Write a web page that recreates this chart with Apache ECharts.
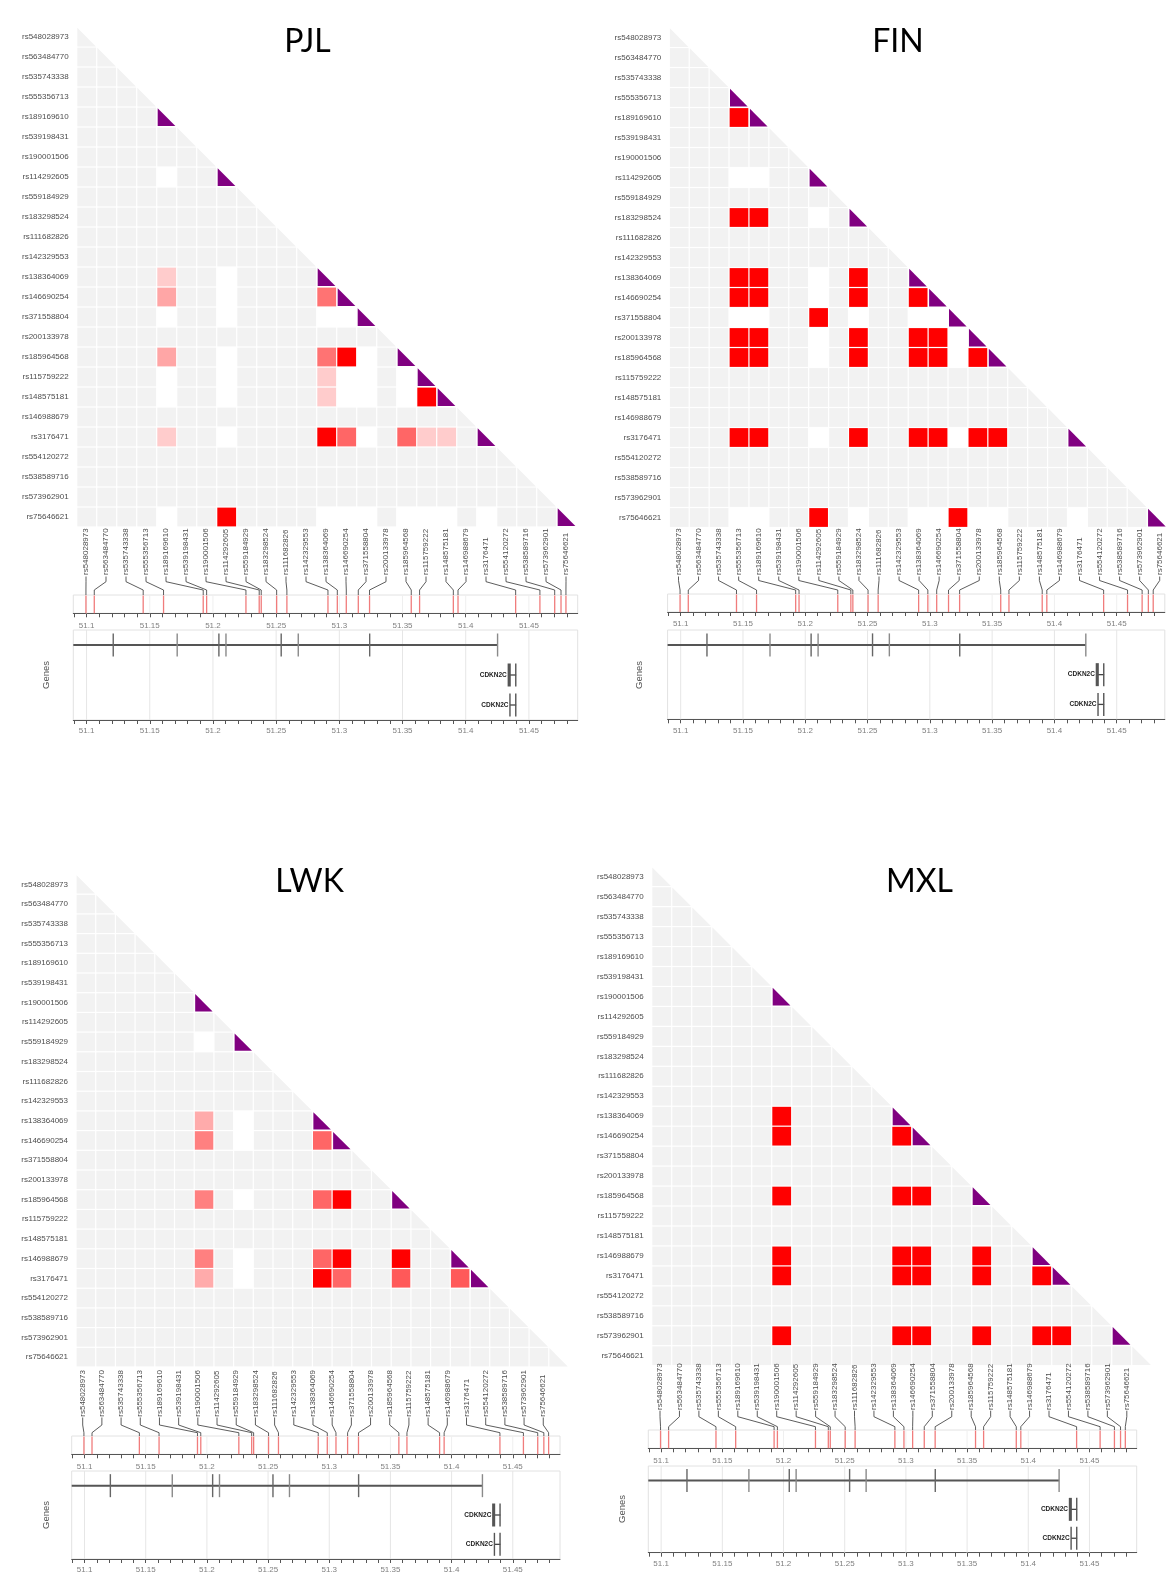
<!DOCTYPE html>
<html><head><meta charset="utf-8">
<script src="https://cdn.jsdelivr.net/npm/echarts@6.0.0/dist/echarts.min.js"></script>
<style>html,body{margin:0;padding:0;background:#fff}#c{width:1167px;height:1574px}</style>
</head><body><div id="c"></div>
<script>
// ---------------- DATA ----------------
const snps = ['rs548028973','rs563484770','rs535743338','rs555356713','rs189169610','rs539198431','rs190001506','rs114292605','rs559184929','rs183298524','rs111682826','rs142329553','rs138364069','rs146690254','rs371558804','rs200133978','rs185964568','rs115759222','rs148575181','rs146988679','rs3176471','rs554120272','rs538589716','rs573962901','rs75646621'];
const snpPosMb = [51.0995,51.1061,51.1448,51.1609,51.1923,51.1950,51.2261,51.2366,51.2382,51.2504,51.2585,51.2910,51.2984,51.3055,51.3150,51.3239,51.3569,51.3635,51.3902,51.3939,51.4395,51.4587,51.4704,51.4754,51.4793];

const populations = ['PJL','FIN','LWK','MXL'];

// polymorphic SNPs (1-based, purple diagonal) and pairwise r2 [row, col, r2]
const pjlPolymorphic = [5,8,13,14,15,17,18,19,21,25];
const pjlR2 = [[13,5,0.2],[14,5,0.35],[14,13,0.55],[17,5,0.35],[17,13,0.55],[17,14,1],[18,13,0.2],[19,13,0.2],[19,18,1],[21,5,0.2],[21,13,1],[21,14,0.6],[21,17,0.6],[21,18,0.2],[21,19,0.2],[25,8,1]];

const finPolymorphic = [4,5,8,10,13,14,15,16,17,21,25];
const finR2 = [[5,4,1],[10,4,1],[10,5,1],[13,4,1],[13,5,1],[13,10,1],[14,4,1],[14,5,1],[14,10,1],[14,13,1],[15,8,1],[16,4,1],[16,5,1],[16,10,1],[16,13,1],[16,14,1],[17,4,1],[17,5,1],[17,10,1],[17,13,1],[17,14,1],[17,16,1],[21,4,1],[21,5,1],[21,10,1],[21,13,1],[21,14,1],[21,16,1],[21,17,1],[25,8,1],[25,15,1]];

const lwkPolymorphic = [7,9,13,14,17,20,21];
const lwkR2 = [[13,7,0.33],[14,7,0.5],[14,13,0.6],[17,7,0.5],[17,13,0.6],[17,14,1],[20,7,0.5],[20,13,0.6],[20,14,1],[20,17,1],[21,7,0.33],[21,13,1],[21,14,0.6],[21,17,0.65],[21,20,0.65]];

const mxlPolymorphic = [7,13,14,17,20,21,24];
const mxlR2 = [[13,7,1],[14,7,1],[14,13,1],[17,7,1],[17,13,1],[17,14,1],[20,7,1],[20,13,1],[20,14,1],[20,17,1],[21,7,1],[21,13,1],[21,14,1],[21,17,1],[21,20,1],[24,7,1],[24,13,1],[24,14,1],[24,17,1],[24,20,1],[24,21,1]];

// genes
const geneLabels = ['', 'CDKN2C', 'CDKN2C'];
const geneStarts = [51.00, 51.4337, 51.4350];
const geneEnds   = [51.4252, 51.4399, 51.4399];
const geneExons  = [
  [[51.1211,51.1211],[51.1717,51.1717],[51.2047,51.2047],[51.2103,51.2103],[51.2540,51.2540],[51.2675,51.2675],[51.3240,51.3240],[51.4252,51.4252]],
  [[51.4337,51.4362],[51.4396,51.4399]],
  [[51.4350,51.4356],[51.4396,51.4399]]
];

// axis ticks (Mb)
const majorTicks = [51.1,51.15,51.2,51.25,51.3,51.35,51.4,51.45];
const minorTicks = [51.09,51.1,51.11,51.12,51.13,51.14,51.15,51.16,51.17,51.18,51.19,51.2,51.21,51.22,51.23,51.24,51.25,51.26,51.27,51.28,51.29,51.3,51.31,51.32,51.33,51.34,51.35,51.36,51.37,51.38,51.39,51.4,51.41,51.42,51.43,51.44,51.45,51.46,51.47,51.48];

// ---------------- LAYOUT ----------------
const X_MIN = 51.0895, X_MAX = 51.4886;
const FONT = "'Liberation Sans', Arial, sans-serif";
const layout = [
  {pop:'PJL', poly:pjlPolymorphic, r2:pjlR2, title:[307.5,41.5], heat:{left:76.7, top:27, w:500, h:500},
   labX0:86, labDx:20, labBottom:575, conn:[576.5,581.7,590],
   track:{left:73.3, top:595, w:504.4, h:18.3}, gene:{top:630, h:90}, genesLabel:[46,675]},
  {pop:'FIN', poly:finPolymorphic, r2:finR2, title:[898,41.5], heat:{left:669.3, top:27.5, w:500, h:500},
   labX0:678.5, labDx:20.05, labBottom:575, conn:[576.5,580.5,590],
   track:{left:667.6, top:594, w:497.2, h:18}, gene:{top:630, h:89.3}, genesLabel:[639,675]},
  {pop:'LWK', poly:lwkPolymorphic, r2:lwkR2, title:[309.5,882], heat:{left:76, top:874.5, w:492.5, h:492.5},
   labX0:82.7, labDx:19.19, labBottom:1416.7, conn:[1417.5,1425,1432.7],
   track:{left:71.7, top:1436, w:488.3, h:18.3}, gene:{top:1471, h:89}, genesLabel:[46.7,1515]},
  {pop:'MXL', poly:mxlPolymorphic, r2:mxlR2, title:[919.5,882], heat:{left:651.7, top:866.7, w:500, h:499},
   labX0:660, labDx:19.45, labBottom:1410, conn:[1410.7,1416.7,1426.7],
   track:{left:648.3, top:1430, w:488.4, h:18.3}, gene:{top:1466, h:86.7}, genesLabel:[622,1509]}
];

function buildCells(poly, r2) {
  const ps = new Set(poly.map(k => k - 1));
  const m = {};
  r2.forEach(([r, c, v]) => { m[(r - 1) + '_' + (c - 1)] = v; });
  const cells = [];
  for (let r = 0; r < snps.length; r++) {
    for (let c = 0; c <= r; c++) {
      let kind, v = 0;
      if (r === c) kind = ps.has(r) ? 3 : 2;
      else if (ps.has(r) && ps.has(c)) { kind = 1; v = (m[r + '_' + c] !== undefined) ? m[r + '_' + c] : 0; }
      else kind = 0;
      cells.push([c, r, v, kind]);
    }
  }
  return cells;
}

const GRAY = '#f2f2f2', PURPLE = '#800080';
function ldColor(v) { const g = Math.round(255 * (1 - v)); return 'rgb(255,' + g + ',' + g + ')'; }

function renderHeat(params, api) {
  const c = api.value(0), r = api.value(1), v = api.value(2), kind = api.value(3);
  const p = api.coord([c, r]); const s = api.size([1, 1]);
  const x0 = p[0] - s[0] / 2, y0 = p[1] - s[1] / 2, w = s[0], h = s[1];
  const g = 0.6;
  if (kind === 2 || kind === 3) {
    const inset = kind === 3 ? 1 : g;
    return {type: 'polygon', shape: {points: [[x0 + inset, y0 + inset * 1.3], [x0 + inset, y0 + h - inset], [x0 + w - inset * 1.3, y0 + h - inset]]},
      style: {fill: kind === 3 ? PURPLE : GRAY}};
  }
  return {type: 'rect', shape: {x: x0 + g, y: y0 + g, width: w - 2 * g, height: h - 2 * g},
    style: {fill: kind === 0 ? GRAY : ldColor(v)}};
}

function renderGridLines(color) {
  return function (params, api) {
    const x = api.coord([api.value(0), 0])[0];
    const cs = params.coordSys;
    return {type: 'line', shape: {x1: x, y1: cs.y, x2: x, y2: cs.y + cs.height}, style: {stroke: color, lineWidth: 1}, silent: true};
  };
}

function renderTrack(params, api) {
  const x = api.coord([api.value(0), 0])[0];
  const cs = params.coordSys;
  return {type: 'line', shape: {x1: x, y1: cs.y + 0.5, x2: x, y2: cs.y + cs.height}, style: {stroke: '#f07c7c', lineWidth: 1.3}};
}

function makeConnRender(L) {
  return function (params, api) {
    const i = api.value(1);
    const gx = api.coord([api.value(0), 1])[0];
    const top = params.coordSys.y;
    const lx = L.labX0 + i * L.labDx;
    return {type: 'group', children: [
      {type: 'text', x: lx, y: L.labBottom, rotation: Math.PI / 2,
       style: {text: snps[i], fontSize: 8, fontFamily: FONT, fill: '#4d4d4d', align: 'left', verticalAlign: 'middle'}},
      {type: 'polyline', shape: {points: [[lx, L.conn[0]], [lx, L.conn[1]], [gx, L.conn[2]], [gx, top]]},
       style: {stroke: '#333', lineWidth: 0.8, fill: 'none'}}
    ]};
  };
}

function renderGene(params, api) {
  const gi = api.value(3);
  const cs = params.coordSys;
  const y = api.coord([X_MIN, api.value(2) + 0.5])[1];
  const xs = Math.max(api.coord([api.value(0), 0])[0], cs.x);
  const xe = api.coord([api.value(1), 0])[0];
  const main = gi === 0;
  const children = [{type: 'line', shape: {x1: xs, y1: y, x2: xe, y2: y}, style: {stroke: main ? '#555' : '#444', lineWidth: main ? 2 : 1.3}}];
  geneExons[gi].forEach(([a, b], k) => {
    const x1 = api.coord([a, 0])[0], x2 = api.coord([b, 0])[0];
    const w = Math.max(1.4, x2 - x1);
    children.push({type: 'rect', shape: {x: x1 - 0.7, y: y - 11.5, width: w, height: 23},
      style: {fill: main ? (k % 2 ? '#8a8a8a' : '#666') : '#555'}});
  });
  if (geneLabels[gi]) {
    children.push({type: 'text', x: xs - 1.5, y: y, style: {text: geneLabels[gi], fontSize: 6.5, fontWeight: 'bold', fontFamily: FONT, fill: '#222', align: 'right', verticalAlign: 'middle'}});
  }
  return {type: 'group', children};
}

const grids = [], xAxes = [], yAxes = [], series = [], graphics = [];
const geneData = geneStarts.map((s, i) => [s, geneEnds[i], i, i]);

layout.forEach((L, k) => {
  const gH = 3 * k, gT = 3 * k + 1, gG = 3 * k + 2;
  grids.push({left: L.heat.left, top: L.heat.top, width: L.heat.w, height: L.heat.h});
  grids.push({left: L.track.left, top: L.track.top, width: L.track.w, height: L.track.h, show: true, borderColor: '#e2e2e2', borderWidth: 1, backgroundColor: '#fff'});
  grids.push({left: L.track.left, top: L.gene.top, width: L.track.w, height: L.gene.h, show: true, borderColor: '#e2e2e2', borderWidth: 1, backgroundColor: '#fff'});

  xAxes.push({type: 'category', gridIndex: gH, data: snps, show: false});
  yAxes.push({type: 'category', gridIndex: gH, data: snps, inverse: true,
    axisLine: {show: false}, axisTick: {show: false}, splitLine: {show: false},
    axisLabel: {interval: 0, fontSize: 8, fontFamily: FONT, color: '#4d4d4d', margin: 8}});

  const valX = (gi, margin) => ({type: 'value', gridIndex: gi, min: X_MIN, max: X_MAX, position: 'bottom',
    axisLine: {show: true, onZero: false, lineStyle: {color: '#555', width: 1}},
    axisTick: {show: true, customValues: minorTicks, length: 4, lineStyle: {color: '#555'}},
    axisLabel: {show: true, customValues: majorTicks, margin: margin, fontSize: 8, fontFamily: FONT, color: '#808080'},
    splitLine: {show: false}});
  xAxes.push(valX(gT, 8));
  yAxes.push({type: 'value', gridIndex: gT, min: 0, max: 1, show: false});
  xAxes.push(valX(gG, 7));
  yAxes.push({type: 'value', gridIndex: gG, min: 0, max: 3, inverse: true, show: false});

  series.push({type: 'custom', name: L.pop + ' LD', xAxisIndex: gH, yAxisIndex: gH, data: buildCells(L.poly, L.r2), renderItem: renderHeat, silent: true});
  series.push({type: 'custom', xAxisIndex: gT, yAxisIndex: gT, data: majorTicks.map(v => [v, 0]), renderItem: renderGridLines('#efefef'), silent: true, z: 1});
  series.push({type: 'custom', name: L.pop + ' SNPs', xAxisIndex: gT, yAxisIndex: gT, data: snpPosMb.map((v, i) => [v, i]), renderItem: renderTrack, silent: true, z: 2});
  series.push({type: 'custom', xAxisIndex: gT, yAxisIndex: gT, data: snpPosMb.map((v, i) => [v, i]), renderItem: makeConnRender(L), silent: true, z: 3});
  series.push({type: 'custom', xAxisIndex: gG, yAxisIndex: gG, data: majorTicks.map(v => [v, 0]), renderItem: renderGridLines('#e6e6e6'), silent: true, z: 1});
  series.push({type: 'custom', name: L.pop + ' genes', xAxisIndex: gG, yAxisIndex: gG, data: geneData, renderItem: renderGene, silent: true, z: 2});

  graphics.push({type: 'text', x: L.title[0], y: L.title[1], style: {text: L.pop, fontSize: 32, fontFamily: "Lato, 'Open Sans', sans-serif", fill: '#000', align: 'center', verticalAlign: 'middle'}});
  graphics.push({type: 'text', x: L.genesLabel[0], y: L.genesLabel[1], rotation: Math.PI / 2, style: {text: 'Genes', fontSize: 9.5, fontFamily: FONT, fill: '#555', align: 'center', verticalAlign: 'middle'}});
});

const chart = echarts.init(document.getElementById('c'), null, {renderer: 'canvas'});
chart.setOption({
  backgroundColor: '#fff',
  animation: false,
  grid: grids, xAxis: xAxes, yAxis: yAxes, series: series, graphic: graphics
});
</script></body></html>
